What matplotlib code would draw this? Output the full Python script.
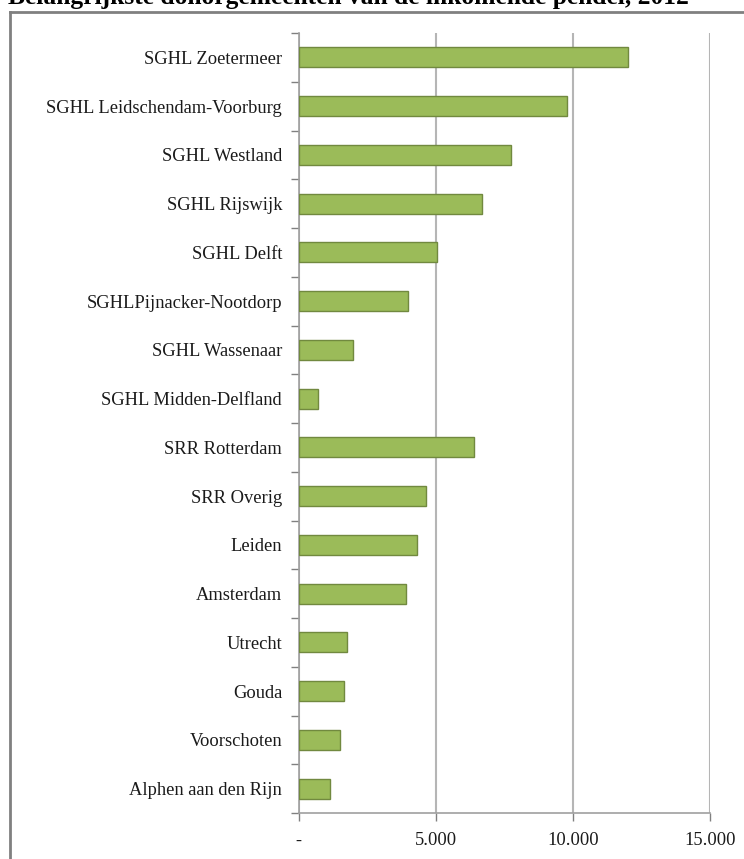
import matplotlib
matplotlib.use("Agg")
import matplotlib.pyplot as plt
from matplotlib.lines import Line2D
from matplotlib.ticker import FixedLocator

categories = [
    "SGHL Zoetermeer",
    "SGHL Leidschendam-Voorburg",
    "SGHL Westland",
    "SGHL Rijswijk",
    "SGHL Delft",
    "SGHLPijnacker-Nootdorp",
    "SGHL Wassenaar",
    "SGHL Midden-Delfland",
    "SRR Rotterdam",
    "SRR Overig",
    "Leiden",
    "Amsterdam",
    "Utrecht",
    "Gouda",
    "Voorschoten",
    "Alphen aan den Rijn",
]
values = [12000, 9800, 7750, 6700, 5050, 4000, 1970, 700,
          6400, 4650, 4300, 3900, 1760, 1650, 1500, 1150]
xticks = [0, 5000, 10000, 15000]
xticklabels = ["-", "5.000", "10.000", "15.000"]
title = "Belangrijkste donorgemeenten van de inkomende pendel, 2012"

W, H = 744, 859
fig = plt.figure(figsize=(W / 100, H / 100), dpi=100)
ax = fig.add_axes([298.7 / W, 1 - 813 / H, (709.7 - 298.7) / W, (813 - 33) / H])

n = len(categories)
ypos = list(range(n))
ax.barh(ypos, values, height=0.41, color="#9BBB59", edgecolor="#71893F",
        linewidth=1.0, zorder=3)
ax.set_ylim(n - 0.5, -0.5)
ax.set_xlim(0, 15000)

serif = ["Liberation Serif", "DejaVu Serif"]
ax.set_yticks(ypos)
ax.set_yticklabels(categories, fontsize=13.3, family=serif, color="#1a1a1a")
ax.yaxis.set_minor_locator(FixedLocator([i - 0.5 for i in range(n + 1)]))
ax.tick_params(axis="y", which="major", length=0, pad=12)
ax.tick_params(axis="y", which="minor", length=6, width=1, color="#808080")

ax.set_xticks(xticks)
ax.set_xticklabels(xticklabels, fontsize=13.3, family=serif, color="#1a1a1a")
ax.tick_params(axis="x", which="major", length=6, width=1, color="#808080",
               pad=8)

ax.grid(axis="x", color="#B5B5B5", linewidth=1.5, zorder=0)
for s in ["top", "right"]:
    ax.spines[s].set_visible(False)
ax.spines["left"].set_color("#A0A0A0")
ax.spines["bottom"].set_color("#A0A0A0")
ax.spines["left"].set_linewidth(1.2)
ax.spines["bottom"].set_linewidth(1.2)

# outer frame (left and top edges visible)
fig.add_artist(Line2D([10 / W, 10 / W], [0, 1 - 12 / H], transform=fig.transFigure,
                      color="#808080", linewidth=2))
fig.add_artist(Line2D([10 / W, 1], [1 - 12 / H, 1 - 12 / H], transform=fig.transFigure,
                      color="#808080", linewidth=2))

# title, partly cut off at top
fig.text(8 / W, 1 - 4 / H, title, fontsize=18.4, fontweight="bold",
         family=serif, ha="left", va="baseline", color="black")

fig.savefig("out.png", dpi=100)
